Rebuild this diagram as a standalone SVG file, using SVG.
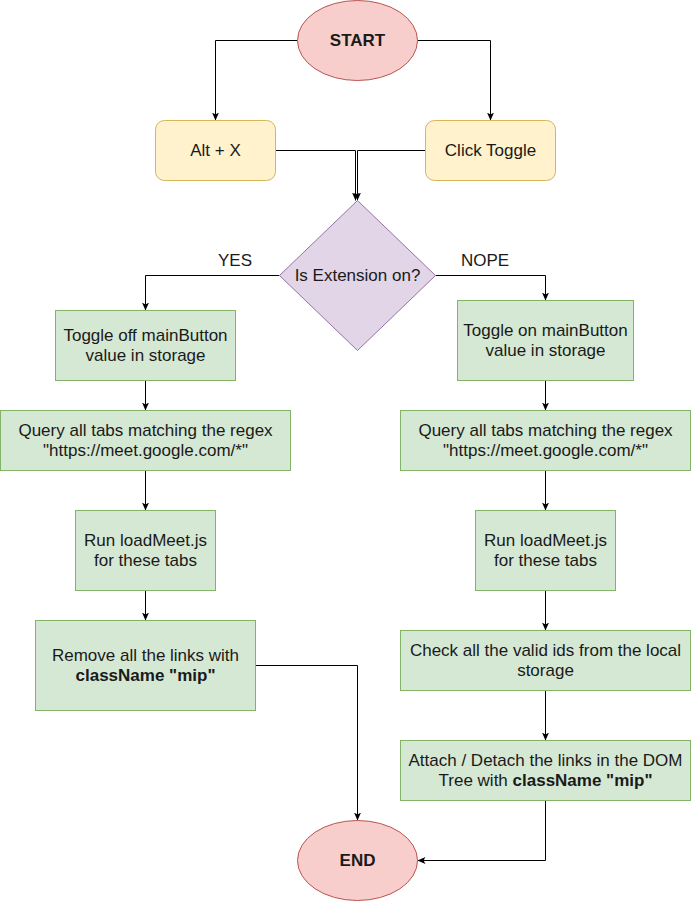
<svg xmlns="http://www.w3.org/2000/svg" width="691" height="901" viewBox="0 0 691 901">
<style>
text{font-family:"Liberation Sans",Arial,Helvetica,sans-serif;font-size:17px;fill:#1a1a1a;text-anchor:middle}
.b{font-weight:bold}
.red{fill:#f8cecc;stroke:#b85450;stroke-width:1}
.yel{fill:#fff2cc;stroke:#d6b656;stroke-width:1}
.pur{fill:#e1d5e7;stroke:#9673a6;stroke-width:1}
.grn{fill:#d5e8d4;stroke:#82b366;stroke-width:1}
.edge{fill:none;stroke:#000;stroke-width:1;marker-end:url(#arr)}
</style>
<defs>
<marker id="arr" markerUnits="userSpaceOnUse" markerWidth="8" markerHeight="8" viewBox="0 0 8 8" refX="8" refY="4" orient="auto">
<path d="M0,0.5 L8,4 L0,7.5 L2,4 z" fill="#000"/>
</marker>
</defs>
<rect width="691" height="901" fill="#fff"/>
<g id="connectors">
<path class="edge" d="M297.5,40.5 H215.5 V120.5"/>
<path class="edge" d="M417.5,40.5 H490.5 V120.5"/>
<path class="edge" d="M275.5,150.5 H355.5 V200.5"/>
<path class="edge" d="M425.5,150.5 H357.5 V200.5"/>
<path class="edge" d="M279.5,275.5 H145.5 V310.5"/>
<path class="edge" d="M435.5,275.5 H545.5 V300.5"/>
<path class="edge" d="M145.5,380.5 V410.5"/>
<path class="edge" d="M145.5,470.5 V510.5"/>
<path class="edge" d="M145.5,590.5 V620.5"/>
<path class="edge" d="M255.5,665.5 H357.5 V820.5"/>
<path class="edge" d="M545.5,380.5 V410.5"/>
<path class="edge" d="M545.5,470.5 V510.5"/>
<path class="edge" d="M545.5,590.5 V630.5"/>
<path class="edge" d="M545.5,690.5 V740.5"/>
<path class="edge" d="M545.5,800.5 V860.5 H417.5"/>
<text x="235" y="266">YES</text>
<text x="485" y="266">NOPE</text>
</g>
<g id="start">
<ellipse class="red" cx="357.5" cy="40.5" rx="60" ry="40"/>
<text class="b" x="357.5" y="46">START</text>
</g>
<g id="altx">
<rect class="yel" x="155.5" y="120.5" width="120" height="60" rx="9"/>
<text x="215.5" y="156">Alt + X</text>
</g>
<g id="clicktoggle">
<rect class="yel" x="425.5" y="120.5" width="130" height="60" rx="9"/>
<text x="490.5" y="156">Click Toggle</text>
</g>
<g id="decision">
<path class="pur" d="M357.5,200.5 L435.5,275.5 L357.5,350.5 L279.5,275.5 Z"/>
<text x="357.5" y="281">Is Extension on?</text>
</g>
<g id="toggleoff">
<rect class="grn" x="55.5" y="310.5" width="180" height="70"/>
<text x="145.5" y="341">Toggle off mainButton</text>
<text x="145.5" y="361">value in storage</text>
</g>
<g id="queryleft">
<rect class="grn" x="0.5" y="410.5" width="290" height="60"/>
<text x="145.5" y="436">Query all tabs matching the regex</text>
<text x="145.5" y="456">"https://meet.google.com/*"</text>
</g>
<g id="runleft">
<rect class="grn" x="75.5" y="510.5" width="140" height="80"/>
<text x="145.5" y="546">Run loadMeet.js</text>
<text x="145.5" y="566">for these tabs</text>
</g>
<g id="remove">
<rect class="grn" x="35.5" y="620.5" width="220" height="90"/>
<text x="145.5" y="661">Remove all the links with</text>
<text class="b" x="145.5" y="681">className "mip"</text>
</g>
<g id="toggleon">
<rect class="grn" x="457.5" y="300.5" width="176" height="80"/>
<text x="545.5" y="336">Toggle on mainButton</text>
<text x="545.5" y="356">value in storage</text>
</g>
<g id="queryright">
<rect class="grn" x="400.5" y="410.5" width="290" height="60"/>
<text x="545.5" y="436">Query all tabs matching the regex</text>
<text x="545.5" y="456">"https://meet.google.com/*"</text>
</g>
<g id="runright">
<rect class="grn" x="475.5" y="510.5" width="140" height="80"/>
<text x="545.5" y="546">Run loadMeet.js</text>
<text x="545.5" y="566">for these tabs</text>
</g>
<g id="check">
<rect class="grn" x="400.5" y="630.5" width="290" height="60"/>
<text x="545.5" y="656">Check all the valid ids from the local</text>
<text x="545.5" y="676">storage</text>
</g>
<g id="attach">
<rect class="grn" x="400.5" y="740.5" width="290" height="60"/>
<text x="545.5" y="766">Attach / Detach the links in the DOM</text>
<text x="545.5" y="786">Tree with <tspan class="b">className "mip"</tspan></text>
</g>
<g id="end">
<ellipse class="red" cx="357.5" cy="860.5" rx="60" ry="40"/>
<text class="b" x="357.5" y="866">END</text>
</g>
</svg>
